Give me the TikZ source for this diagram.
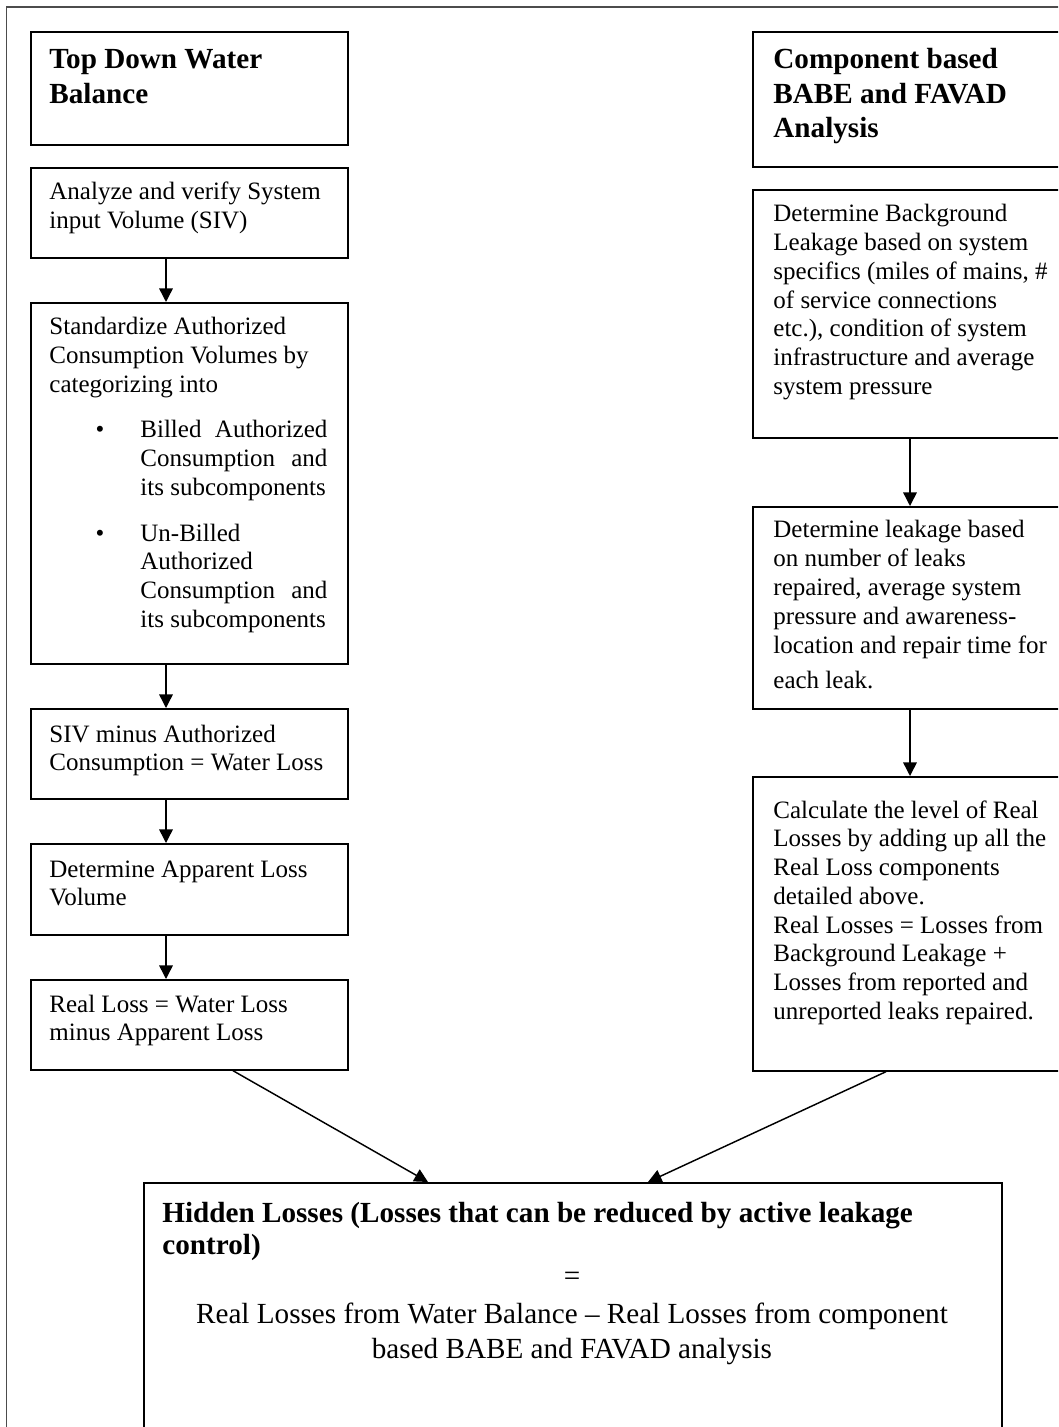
\documentclass[tikz,border=0pt]{standalone}
\usepackage{fontspec}
\setmainfont{Liberation Serif}
\usetikzlibrary{arrows.meta,calc}
\newlength\pxu
\setlength\pxu{0.48pt}
\newcommand\bodyfont{\fontsize{12}{13.8}\selectfont}
\newcommand\headfont{\fontsize{14}{16.5}\selectfont\bfseries}
\newcommand\bigfont{\fontsize{14}{16.8}\selectfont}
\begin{document}
\begin{tikzpicture}[x=0.48pt,y=-0.48pt,
  box/.style={draw, line width=0.8pt, inner sep=0pt, anchor=north west},
  sz/.style 2 args={minimum width=#1*0.48pt, minimum height=#2*0.48pt},
  txt/.style={inner sep=0pt, anchor=base west},
  arr/.style={line width=0.7pt, -{Triangle[length=6.5pt,width=6.5pt]}}]
\useasboundingbox (0,0) rectangle (1058,1427);
\begin{scope}
\clip (0,0) rectangle (1058,1427);
% outer frame
\draw[line width=0.9pt, black!70] (6.5,7) rectangle (1120,1500);
% left column boxes
\node[box, sz={317}{113}] (L1) at (30,31) {};
\node[box, sz={317}{90}]  (L2) at (30,167) {};
\node[box, sz={317}{361}] (L3) at (30,302) {};
\node[box, sz={317}{90}]  (L4) at (30,708) {};
\node[box, sz={317}{91}]  (L5) at (30,843) {};
\node[box, sz={317}{90}]  (L6) at (30,979) {};
% right column boxes
\node[box, sz={317}{135}] (R1) at (752,31) {};
\node[box, sz={317}{248}] (R2) at (752,189) {};
\node[box, sz={317}{202}] (R3) at (752,506) {};
\node[box, sz={317}{294}] (R4) at (752,776) {};
% bottom box
\node[box, sz={858}{330}] (B) at (143,1182) {};

% texts left
\node[txt] (tL1) at (49,69) {\parbox[t]{300\pxu}{\raggedright\headfont Top Down Water\\Balance}};
\node[txt] (tL2) at (49,200) {\parbox[t]{300\pxu}{\raggedright\bodyfont Analyze and verify System\\input Volume (SIV)}};
\node[txt] (tL3) at (49,335) {\parbox[t]{300\pxu}{\raggedright\bodyfont Standardize Authorized\\Consumption Volumes by\\categorizing into}};
\node[txt, anchor=base] (b1) at (100,438) {\bodyfont •};
\node[txt] (tL3a) at (140,438) {\parbox[t]{187\pxu}{\bodyfont\makebox[\linewidth][s]{Billed Authorized}\\\makebox[\linewidth][s]{Consumption and}\\its subcomponents}};
\node[txt, anchor=base] (b2) at (100,541) {\bodyfont •};
\node[txt] (tL3b) at (140,541) {\parbox[t]{187\pxu}{\bodyfont Un-Billed\\Authorized\\\makebox[\linewidth][s]{Consumption and}\\its subcomponents}};
\node[txt] (tL4) at (49,742) {\parbox[t]{300\pxu}{\raggedright\bodyfont SIV minus Authorized\\Consumption = Water Loss}};
\node[txt] (tL5) at (49,877) {\parbox[t]{300\pxu}{\raggedright\bodyfont Determine Apparent Loss\\Volume}};
\node[txt] (tL6) at (49,1012) {\parbox[t]{300\pxu}{\raggedright\bodyfont Real Loss = Water Loss\\minus Apparent Loss}};

% texts right
\node[txt] (tR1) at (773,69) {\parbox[t]{300\pxu}{\raggedright\headfont Component based\\BABE and FAVAD\\Analysis}};
\node[txt] (tR2) at (773,222) {\parbox[t]{300\pxu}{\raggedright\bodyfont Determine Background\\Leakage based on system\\specifics (miles of mains, \#\\of service connections\\etc.), condition of system\\infrastructure and average\\system pressure}};
\node[txt] (tR3) at (773,538) {\parbox[t]{300\pxu}{\raggedright\bodyfont Determine leakage based\\on number of leaks\\repaired, average system\\pressure and awareness-\\location and repair time for\\[3pt]each leak.}};
\node[txt] (tR4) at (773,818) {\parbox[t]{300\pxu}{\raggedright\bodyfont Calculate the level of Real\\Losses by adding up all the\\Real Loss components\\detailed above.\\Real Losses = Losses from\\Background Leakage +\\Losses from reported and\\unreported leaks repaired.}};

% bottom texts
\node[txt] (tB1) at (162,1222) {\parbox[t]{830\pxu}{\raggedright\fontsize{14}{15.8}\selectfont\bfseries Hidden Losses (Losses that can be reduced by active leakage\\control)}};
\node[txt, anchor=base] (tB2) at (572,1285) {\bigfont =};
\node[txt, anchor=base] (tB3) at (572,1323) {\parbox[t]{830\pxu}{\centering\bigfont Real Losses from Water Balance – Real Losses from component\\based BABE and FAVAD analysis}};

% connectors
\coordinate (lc) at (166,0);
\coordinate (rc) at (910,0);
\draw[arr] (L2.south -| lc) -- (L3.north -| lc);
\draw[arr] (L3.south -| lc) -- (L4.north -| lc);
\draw[arr] (L4.south -| lc) -- (L5.north -| lc);
\draw[arr] (L5.south -| lc) -- (L6.north -| lc);
\draw[arr] (R2.south -| rc) -- (R3.north -| rc);
\draw[arr] (R3.south -| rc) -- (R4.north -| rc);
\coordinate (d1) at (233,0);
\coordinate (t1) at (428,0);
\coordinate (d2) at (886,0);
\coordinate (t2) at (648,0);
\draw[arr] (L6.south -| d1) -- (B.north -| t1);
\draw[arr] (R4.south -| d2) -- (B.north -| t2);
\end{scope}
\end{tikzpicture}
\end{document}
